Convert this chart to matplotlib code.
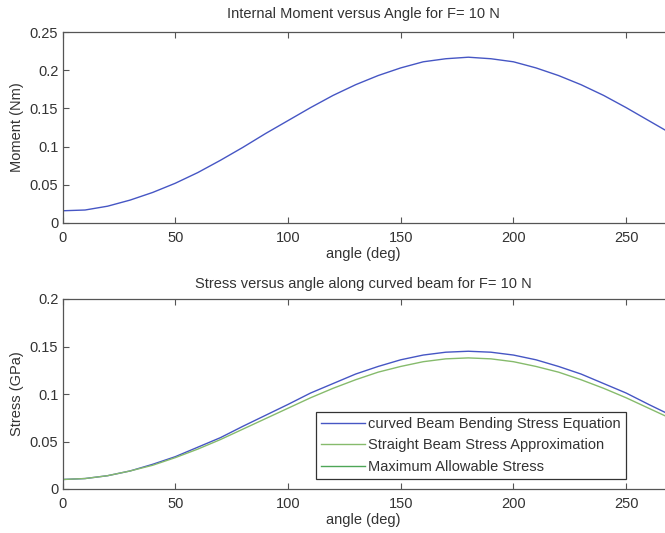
import matplotlib
matplotlib.use("Agg")
import matplotlib.pyplot as plt
from matplotlib.lines import Line2D

# Angle along the beam (deg)
angle = [0, 10, 20, 30, 40, 50, 60, 70, 80, 90, 100, 110, 120, 130,
         140, 150, 160, 170, 180, 190, 200, 210, 220, 230, 240, 250, 260, 270]

# Internal moment (Nm)
moment = [0.016, 0.017, 0.022, 0.030, 0.040, 0.052, 0.066, 0.082, 0.099,
          0.117, 0.134, 0.151, 0.167, 0.181, 0.193, 0.203, 0.211, 0.215,
          0.217, 0.215, 0.211, 0.203, 0.193, 0.181, 0.167, 0.151, 0.134, 0.117]

# Bending stress (GPa)
stress_curved = [0.010, 0.011, 0.014, 0.019, 0.026, 0.034, 0.044, 0.054, 0.066,
                 0.0775, 0.089, 0.101, 0.111, 0.121, 0.129, 0.136, 0.141, 0.144,
                 0.145, 0.144, 0.141, 0.136, 0.129, 0.121, 0.111, 0.101, 0.089, 0.0775]
stress_straight = [0.010, 0.011, 0.014, 0.019, 0.025, 0.033, 0.042, 0.052, 0.063,
                   0.074, 0.085, 0.096, 0.106, 0.115, 0.123, 0.129, 0.134, 0.137,
                   0.138, 0.137, 0.134, 0.129, 0.123, 0.115, 0.106, 0.096, 0.085, 0.074]

legend_labels = ["curved Beam Bending Stress Equation",
                 "Straight Beam Stress Approximation",
                 "Maximum Allowable Stress"]

moment_ticks = [0, 0.05, 0.1, 0.15, 0.2, 0.25]
moment_ticklabels = ["0", "0.05", "0.1", "0.15", "0.2", "0.25"]
stress_ticks = [0, 0.05, 0.1, 0.15, 0.2]
stress_ticklabels = ["0", "0.05", "0.1", "0.15", "0.2"]
angle_ticks = [0, 50, 100, 150, 200, 250]

BLUE = "#4656c4"
LIGHT_GREEN = "#86bb6c"
GREEN = "#4ea657"
TEXT = "#333333"
SPINE = "#555555"
FS = 10.5

plt.rcParams["font.family"] = ["Liberation Sans", "DejaVu Sans"]
plt.rcParams["font.size"] = FS

fig = plt.figure(figsize=(6.65, 5.33), dpi=100)
W, H = 665.0, 533.0

def make_axes(top_px, bottom_px):
    left = 62.5
    right = 664.5
    return fig.add_axes([left / W, 1 - bottom_px / H, (right - left) / W,
                         (bottom_px - top_px) / H])

def style(ax, yticks, yticklabels, ylim):
    ax.set_xlim(0, 267)
    ax.set_ylim(*ylim)
    ax.set_xticks(angle_ticks)
    ax.set_xticklabels([str(t) for t in angle_ticks])
    ax.set_yticks(yticks)
    ax.set_yticklabels(yticklabels)
    ax.tick_params(direction="in", length=4, width=0.8, colors=SPINE,
                   labelcolor=TEXT, labelsize=FS, top=True)
    ax.tick_params(axis="x", pad=6)
    ax.tick_params(axis="y", pad=3)
    for side in ("left", "bottom", "top"):
        ax.spines[side].set_color(SPINE)
        ax.spines[side].set_linewidth(0.9)
    ax.spines["right"].set_visible(False)

# Internal moment
ax1 = make_axes(32, 223)
ax1.plot(angle, moment, color=BLUE, lw=1.0)
style(ax1, moment_ticks, moment_ticklabels, (0, 0.25))
ax1.set_title("Internal Moment versus Angle for F= 10 N", color=TEXT,
              fontsize=FS, pad=10)
ax1.set_xlabel("angle (deg)", color=TEXT, fontsize=FS, labelpad=1)
ax1.set_ylabel("Moment (Nm)", color=TEXT, fontsize=FS, labelpad=4)

# Stress along the curved beam
ax2 = make_axes(299, 489)
ax2.plot(angle, stress_curved, color=BLUE, lw=1.0)
ax2.plot(angle, stress_straight, color=LIGHT_GREEN, lw=1.0)
style(ax2, stress_ticks, stress_ticklabels, (0, 0.2))
ax2.set_title("Stress versus angle along curved beam for F= 10 N", color=TEXT,
              fontsize=FS, pad=8)
ax2.set_xlabel("angle (deg)", color=TEXT, fontsize=FS, labelpad=1)
ax2.set_ylabel("Stress (GPa)", color=TEXT, fontsize=FS, labelpad=4)

handles = [Line2D([], [], color=BLUE, lw=1.0),
           Line2D([], [], color=LIGHT_GREEN, lw=1.0),
           Line2D([], [], color=GREEN, lw=1.0)]
leg = ax2.legend(handles, legend_labels, loc="upper left",
                 bbox_to_anchor=(316 / W, 1 - 412 / H),
                 bbox_transform=fig.transFigure, fancybox=False,
                 framealpha=1, edgecolor="#333333", fontsize=FS,
                 handlelength=3.0, handletextpad=0.2, labelspacing=0.5,
                 borderpad=0.35, borderaxespad=0)
leg.get_frame().set_linewidth(0.9)
for t in leg.get_texts():
    t.set_color(TEXT)

fig.savefig("out.png", dpi=100)
